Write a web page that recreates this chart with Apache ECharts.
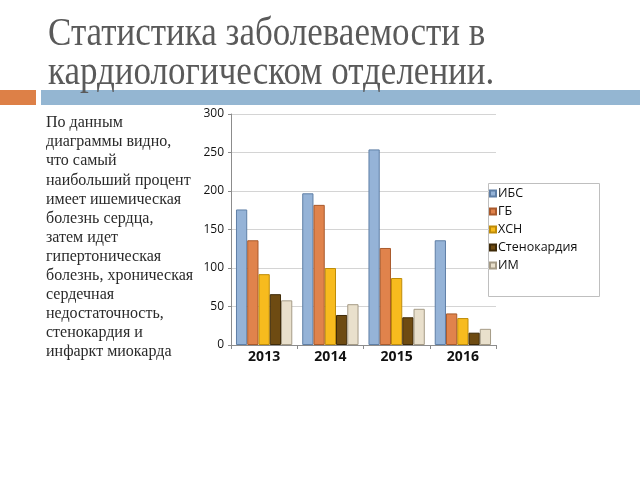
<!DOCTYPE html>
<html><head><meta charset="utf-8">
<script src="https://cdn.jsdelivr.net/npm/echarts@6/dist/echarts.min.js"></script>
<style>html,body{margin:0;padding:0;background:#fff}#c{width:640px;height:480px}</style>
</head><body><div id="c"></div>
<script>
var categories = ['2013', '2014', '2015', '2016'];
var seriesNames = ['ИБС', 'ГБ', 'ХСН', 'Стенокардия', 'ИМ'];
var ibs = [176, 197, 254, 136];
var gb = [136, 182, 126, 41];
var hsn = [92, 100, 87, 35];
var sten = [66, 39, 36, 16];
var im = [58, 53, 47, 21];
var yTicks = [0, 50, 100, 150, 200, 250, 300];
var titleLines = ['Статистика заболеваемости в', 'кардиологическом отделении.'];
var paragraph = ['По данным', 'диаграммы видно,', 'что самый', 'наибольший процент', 'имеет ишемическая', 'болезнь сердца,', 'затем идет', 'гипертоническая', 'болезнь, хроническая', 'сердечная', 'недостаточность,', 'стенокардия и', 'инфаркт миокарда'];

var values = [ibs, gb, hsn, sten, im];
var fills = ['#95B3D7', '#E0834C', '#F7BB1E', '#6E4B12', '#E9E0CC'];
var borders = ['#5F7FA6', '#A95A2C', '#BF8C08', '#3E2A08', '#A59B86'];

var chart = echarts.init(document.getElementById('c'), null, {renderer: 'canvas'});
var series = seriesNames.map(function (n, i) {
  return {
    name: n, type: 'bar', data: values[i],
    barGap: '0%', barCategoryGap: '15%',
    itemStyle: {color: fills[i], borderColor: borders[i], borderWidth: 1},
    emphasis: {disabled: true}
  };
});
var graphics = [
  {type: 'rect', shape: {x: 0, y: 90, width: 36, height: 15}, style: {fill: '#DD8047'}},
  {type: 'rect', shape: {x: 41, y: 90, width: 599, height: 15}, style: {fill: '#94B6D2'}},
  {type: 'rect', shape: {x: 488.5, y: 183.5, width: 111, height: 113}, style: {fill: '#fff', stroke: '#BFBFBF', lineWidth: 1}, z: 0}
];
titleLines.forEach(function (t, i) {
  graphics.push({type: 'text', x: 48, y: 14 + i * 39, scaleY: 1.16, z: 10, style: {text: t, font: '35px "Liberation Serif"', fill: '#5A5A5A'}});
});
paragraph.forEach(function (t, i) {
  graphics.push({type: 'text', left: 46, top: 115 + i * 19.1, style: {text: t, font: '16px "Liberation Serif"', fill: '#2A2A2A'}});
});
chart.setOption({
  animation: false,
  backgroundColor: '#fff',
  grid: {left: 231, right: 144, top: 114, bottom: 135, containLabel: false},
  legend: {
    data: seriesNames, orient: 'vertical', left: 489, top: 187, padding: 0,
    itemWidth: 6, itemHeight: 6, itemGap: 5, icon: 'rect',
    textStyle: {fontFamily: 'Open Sans', fontSize: 12.5, color: '#111', padding: [0, 0, 0, -3]},
    selectedMode: false, z: 5
  },
  xAxis: {
    type: 'category', data: categories,
    axisLine: {lineStyle: {color: '#8C8C8C'}},
    axisTick: {show: true, length: 4, lineStyle: {color: '#8C8C8C'}},
    axisLabel: {fontFamily: 'Open Sans', fontWeight: 'bold', fontSize: 14, color: '#111', margin: 5}
  },
  yAxis: {
    type: 'value', min: 0, max: 300, interval: 50,
    axisLine: {show: true, lineStyle: {color: '#8C8C8C'}},
    axisTick: {show: true, length: 3, lineStyle: {color: '#8C8C8C'}},
    splitLine: {lineStyle: {color: '#D4D4D4'}},
    axisLabel: {fontFamily: 'Open Sans', fontSize: 12, color: '#111', margin: 7,
      formatter: function (v) { return yTicks.indexOf(v) >= 0 ? String(v) : ''; }}
  },
  series: series,
  graphic: graphics
});
</script></body></html>
